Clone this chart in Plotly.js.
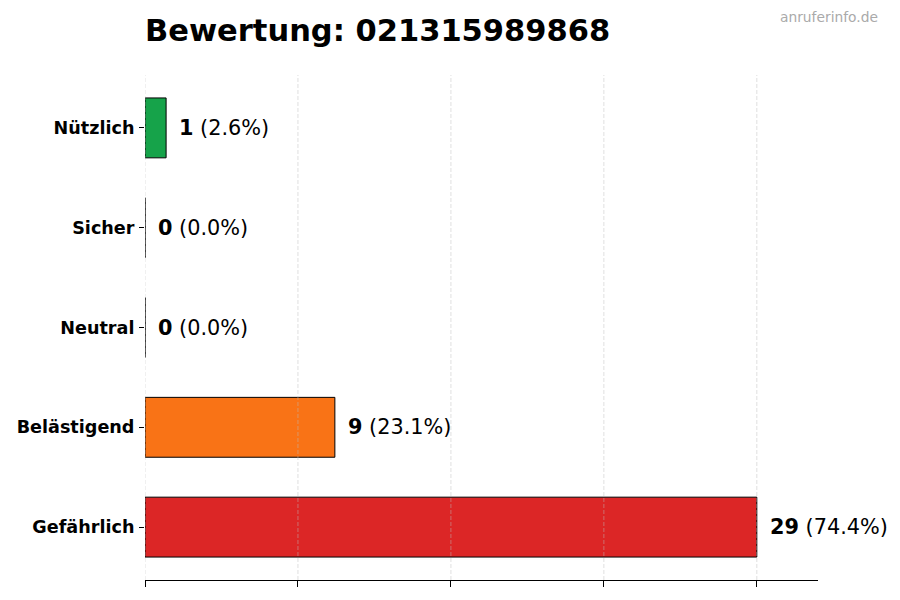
<!DOCTYPE html>
<html>
<head>
<meta charset="utf-8">
<script src="https://cdn.plot.ly/plotly-3.0.1.min.js"></script>
<style>
  html, body { margin: 0; padding: 0; background: #fff; }
  #chart { width: 900px; height: 600px; }
</style>
</head>
<body>
<div id="chart"></div>
<script>
// bottom-to-top order (Plotly puts the first category at the bottom)
const categories = ["Gefährlich", "Belästigend", "Neutral", "Sicher", "Nützlich"];
const counts = [29, 9, 0, 0, 1];
const barColors = ["#dc2626", "#f97316", "#9ca3af", "#3b82f6", "#16a34a"];
const gridTicks = [0, 7.25, 14.5, 21.75, 29];

const FONT = "DejaVu Sans, Liberation Sans, sans-serif";
const total = counts.reduce((a, b) => a + b, 0);
const maxVal = Math.max(...counts);

const trace = {
  type: "bar",
  orientation: "h",
  x: counts,
  y: categories,
  width: 0.6,
  marker: { color: barColors, line: { color: "#000", width: 1 } },
  hoverinfo: "x+y",
  showlegend: false,
};

// value labels: bold count + share
const labels = counts.map((v, i) => ({
  x: v,
  y: categories[i],
  xref: "x",
  yref: "y",
  text: `<b>${v}</b> (${((v / total) * 100).toFixed(1)}%)`,
  showarrow: false,
  xanchor: "left",
  xshift: 11,
  font: { family: FONT, size: 20.8, color: "#000" },
}));

// dashed grid drawn over the bars
const grid = gridTicks.map((t) => ({
  type: "line",
  xref: "x",
  yref: "paper",
  x0: t,
  x1: t,
  y0: 0,
  y1: 1,
  layer: "above",
  line: { color: "rgba(190,190,190,0.6)", width: 0.8, dash: "4px,2px" },
}));

const layout = {
  width: 900,
  height: 600,
  paper_bgcolor: "#fff",
  plot_bgcolor: "#fff",
  margin: { l: 145, r: 82, t: 75, b: 20 },
  title: {
    text: "<b>Bewertung: 021315989868</b>",
    x: 0,
    xref: "paper",
    xanchor: "left",
    y: 0.95,
    yanchor: "middle",
    font: { family: FONT, size: 30.5, color: "#000" },
  },
  xaxis: {
    range: [0, maxVal * 1.1],
    tickvals: gridTicks,
    showticklabels: false,
    showgrid: false,
    zeroline: false,
    showline: true,
    linecolor: "#000",
    linewidth: 1,
    ticks: "outside",
    ticklen: 6,
    tickcolor: "#000",
  },
  yaxis: {
    type: "category",
    categoryarray: categories,
    range: [-0.53, 4.53],
    showgrid: false,
    zeroline: false,
    showline: false,
    ticks: "outside",
    ticklen: 5,
    tickcolor: "#000",
    ticklabelstandoff: 1,
    tickfont: { family: FONT, size: 17.6, color: "#000", weight: "bold" },
  },
  shapes: grid,
  annotations: [
    ...labels,
    {
      text: "anruferinfo.de",
      xref: "paper",
      yref: "paper",
      x: 1.0915,
      y: 1.115,
      xanchor: "right",
      yanchor: "middle",
      showarrow: false,
      font: { family: FONT, size: 13.8, color: "#aaaaaa" },
    },
  ],
};

Plotly.newPlot("chart", [trace], layout, { displayModeBar: false, staticPlot: true });
</script>
</body>
</html>
